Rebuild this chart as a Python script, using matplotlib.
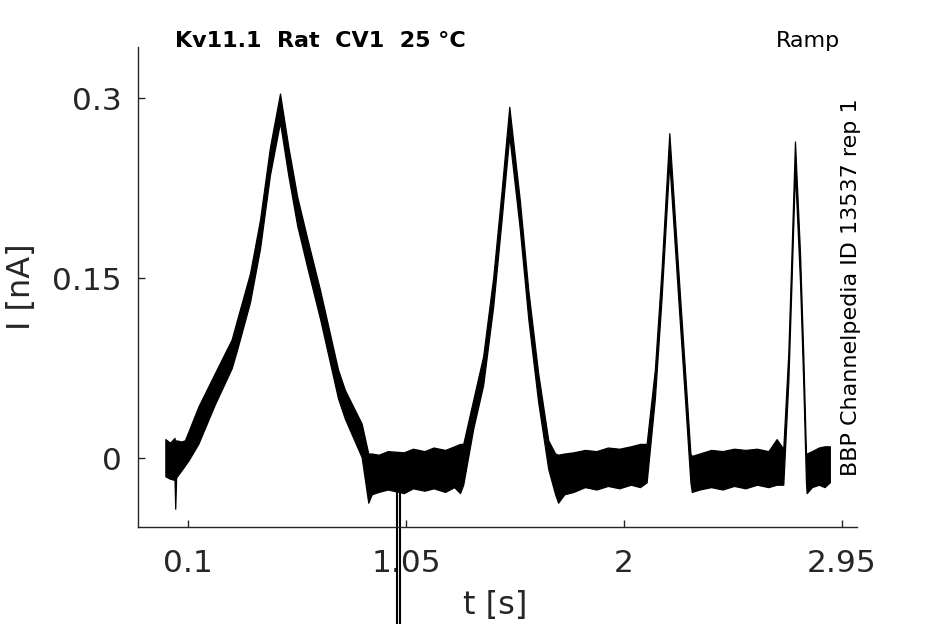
import matplotlib
matplotlib.use('Agg')
import matplotlib.pyplot as plt

# ---- data (noisy trace drawn as its upper / lower envelope) ----
time_s = [0.000, 0.020, 0.040, 0.043, 0.047, 0.070, 0.085, 0.100, 0.1435, 0.216,
          0.289, 0.312, 0.369, 0.413, 0.456, 0.500, 0.536, 0.575, 0.619, 0.675,
          0.753, 0.783, 0.856, 0.885, 0.900, 0.930, 0.970, 1.040, 1.080, 1.130,
          1.170, 1.220, 1.260, 1.285, 1.299, 1.343, 1.386, 1.430, 1.467, 1.500,
          1.546, 1.583, 1.626, 1.670, 1.700, 1.713, 1.740, 1.780, 1.830, 1.880,
          1.930, 1.980, 2.030, 2.070, 2.099, 2.135, 2.164, 2.198, 2.237, 2.266,
          2.290, 2.296, 2.330, 2.380, 2.430, 2.480, 2.530, 2.580, 2.630, 2.666,
          2.695, 2.717, 2.731, 2.746, 2.768, 2.782, 2.794, 2.797, 2.820, 2.850,
          2.875, 2.898]
current_upper_nA = [0.016, 0.013, 0.017, 0.012, 0.015, 0.014, 0.015, 0.022, 0.043, 0.071,
                    0.099, 0.115, 0.154, 0.199, 0.259, 0.304, 0.260, 0.218, 0.183, 0.140,
                    0.074, 0.057, 0.029, 0.004, 0.004, 0.003, 0.006, 0.005, 0.008, 0.006,
                    0.009, 0.007, 0.010, 0.012, 0.012, 0.049, 0.085, 0.151, 0.224, 0.293,
                    0.215, 0.140, 0.071, 0.015, 0.004, 0.003, 0.004, 0.005, 0.007, 0.006,
                    0.009, 0.008, 0.010, 0.012, 0.012, 0.074, 0.157, 0.271, 0.157, 0.074,
                    0.004, 0.002, 0.004, 0.007, 0.006, 0.008, 0.007, 0.008, 0.006, 0.016,
                    0.008, 0.088, 0.171, 0.264, 0.171, 0.088, 0.004, 0.004, 0.006, 0.009,
                    0.010, 0.010]
current_lower_nA = [-0.015, -0.017, -0.018, -0.042, -0.016, -0.010, -0.006, -0.002, 0.012, 0.045,
                    0.075, 0.090, 0.130, 0.175, 0.236, 0.280, 0.236, 0.194, 0.159, 0.116,
                    0.050, 0.033, 0.001, -0.037, -0.030, -0.028, -0.026, -0.029, -0.025, -0.027,
                    -0.025, -0.028, -0.024, -0.029, -0.022, 0.025, 0.061, 0.127, 0.200, 0.269,
                    0.191, 0.116, 0.047, -0.009, -0.030, -0.037, -0.030, -0.028, -0.024, -0.026,
                    -0.023, -0.025, -0.022, -0.024, -0.020, 0.050, 0.133, 0.247, 0.133, 0.050,
                    -0.020, -0.028, -0.026, -0.024, -0.026, -0.023, -0.025, -0.022, -0.024, -0.022,
                    -0.022, 0.064, 0.147, 0.240, 0.147, 0.064, -0.020, -0.029, -0.024, -0.022,
                    -0.024, -0.020]
# recording artifact: a deep downward spike leaving the axes
artifact_t = [1.010, 1.010, 1.025, 1.025]
artifact_i = [-0.027, -0.40, -0.40, -0.027]

x_ticks = [0.1, 1.05, 2, 2.95]
x_tick_labels = ['0.1', '1.05', '2', '2.95']
y_ticks = [0, 0.15, 0.3]
y_tick_labels = ['0', '0.15', '0.3']

title_text = 'Kv11.1  Rat  CV1  25 °C'
protocol_text = 'Ramp'
source_text = 'BBP Channelpedia ID 13537 rep 1'

gray = '#262626'

fig = plt.figure(figsize=(9.45, 6.24), dpi=100)
ax = fig.add_axes([0.1460, 0.1559, 0.7605, 0.7688])

ax.fill_between(time_s, current_lower_nA, current_upper_nA, color='black', lw=0.9)
ax.plot(artifact_t, artifact_i, color='black', lw=1.5, clip_on=False)

ax.set_xlim(-0.1195, 3.015)
ax.set_ylim(-0.057, 0.3428)

ax.set_xticks(x_ticks)
ax.set_xticklabels(x_tick_labels)
ax.set_yticks(y_ticks)
ax.set_yticklabels(y_tick_labels)

for s in ['top', 'right']:
    ax.spines[s].set_visible(False)
for s in ['left', 'bottom']:
    ax.spines[s].set_color(gray)
    ax.spines[s].set_linewidth(1.0)

ax.tick_params(axis='both', direction='in', length=5, width=1.0, colors=gray,
               labelsize=22.5)
ax.tick_params(axis='x', pad=16)
ax.tick_params(axis='y', pad=11.7)

ax.set_xlabel('t [s]', fontsize=23, color=gray)
ax.set_ylabel('I [nA]', fontsize=23, color=gray)
ax.xaxis.set_label_coords(0.497, -0.132)
ax.yaxis.set_label_coords(-0.140, 0.5)

fig.text(175 / 945, 1 - 47 / 624, title_text, fontsize=16, fontweight='bold',
         ha='left', va='baseline', color='black')
fig.text(840 / 945, 1 - 47 / 624, protocol_text, fontsize=16,
         ha='right', va='baseline', color='black')
fig.text(851 / 945, 1 - 287 / 624, source_text, fontsize=16, rotation=90,
         ha='center', va='center', color='black')

fig.savefig('out.png', dpi=100)
